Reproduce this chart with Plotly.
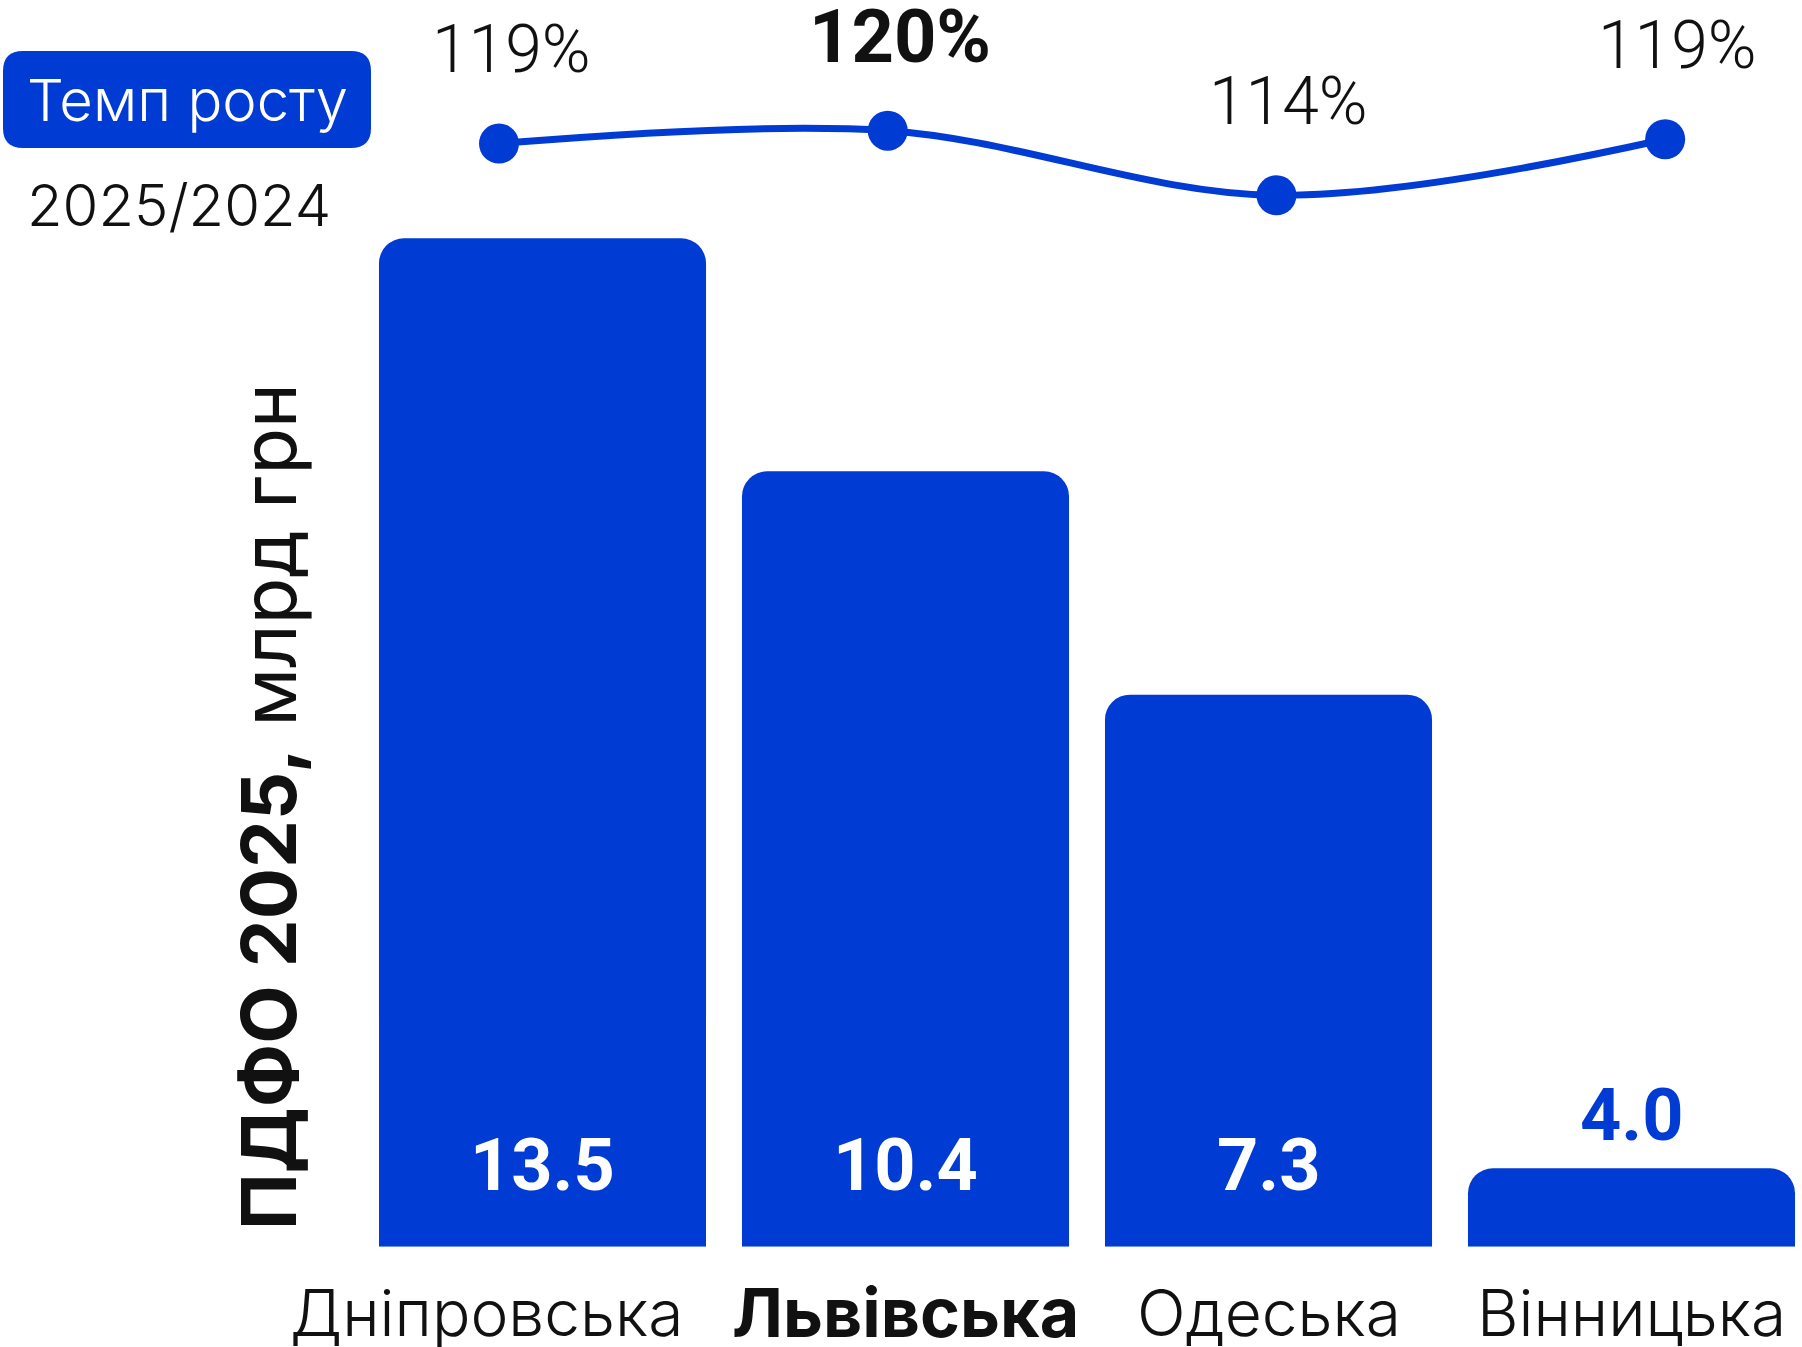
import plotly.graph_objects as go

# ---- data ----
regions = ["Дніпровська", "Львівська", "Одеська", "Вінницька"]
pdfo_2025 = [13.5, 10.4, 7.3, 4.0]          # value labels, млрд грн
bar_heights = [13.5, 10.38, 7.39, 1.05]     # bar heights as drawn in the picture
growth = [118.8, 120.0, 114.0, 119.2]       # темп росту 2025/2024, %
highlight = "Львівська"

W, H = 1802, 1347
BLUE = "#003BD3"
INK = "#111111"
TXT_FONT = "Inter, Lato, 'Noto Sans', sans-serif"
NUM_FONT = "Roboto, Inter, sans-serif"


def px(x):
    return x / W


def py(y):
    return 1 - y / H


fig = go.Figure()

fig.add_trace(go.Bar(
    x=regions, y=bar_heights,
    marker=dict(color=BLUE, cornerradius=25, line=dict(width=0)),
    hoverinfo="skip", showlegend=False,
))

fig.add_trace(go.Scatter(
    x=regions, y=growth, xaxis="x2", yaxis="y2",
    mode="lines+markers",
    line=dict(color=BLUE, width=7, shape="spline", smoothing=1.0),
    marker=dict(color=BLUE, size=40),
    hoverinfo="skip", showlegend=False,
))

annotations = []

# growth labels
for r, g in zip(regions, growth):
    bold = r == highlight
    annotations.append(dict(
        x=r, y=g, xref="x2", yref="y2",
        text=(f"<b>{round(g)}%</b>" if bold else f"{round(g)}%"),
        showarrow=False, xanchor="center", yanchor="middle",
        xshift=12, yshift=94,
        font=dict(family=NUM_FONT, size=74 if bold else 66, color=INK,
                  weight=700 if bold else 300),
    ))

# bar value labels
for r, v, h in zip(regions, pdfo_2025, bar_heights):
    inside = h > 3
    annotations.append(dict(
        x=r, y=0 if inside else h, xref="x", yref="y",
        text=f"<b>{v:.1f}</b>",
        showarrow=False, xanchor="center", yanchor="middle",
        yshift=81 if inside else 53,
        font=dict(family=NUM_FONT, size=72, color="white" if inside else BLUE),
    ))

# category labels
for i, r in enumerate(regions):
    bold = r == highlight
    annotations.append(dict(
        x=r, y=py(1312), xref="x", yref="paper",
        text=f"<b>{r}</b>" if bold else r,
        showarrow=False, xanchor="center", yanchor="middle",
        xshift=-56 if i == 0 else 0,
        font=dict(family=TXT_FONT, size=68 if bold else 64, color=INK,
                  weight=700 if bold else 300),
    ))

# y-axis title
annotations.append(dict(
    x=px(268), y=py(807), xref="paper", yref="paper",
    text="<b>ПДФО 2025,</b> млрд грн", textangle=-90,
    showarrow=False, xanchor="center", yanchor="middle",
    font=dict(family=TXT_FONT, size=76, color=INK),
))

# badge legend
annotations.append(dict(
    x=px(187), y=py(100), xref="paper", yref="paper",
    text="Темп росту", showarrow=False, xanchor="center", yanchor="middle",
    font=dict(family=TXT_FONT, size=58, color="white", weight=300),
))
annotations.append(dict(
    x=px(179), y=py(205), xref="paper", yref="paper",
    text="2025/2024", showarrow=False, xanchor="center", yanchor="middle",
    font=dict(family=TXT_FONT, size=58, color=INK, weight=300),
))

# rounded badge rectangle
x0, x1, y0, y1, rr = 3, 371, 51, 148, 20
path = (
    f"M {px(x0 + rr)} {py(y0)} L {px(x1 - rr)} {py(y0)} "
    f"Q {px(x1)} {py(y0)} {px(x1)} {py(y0 + rr)} "
    f"L {px(x1)} {py(y1 - rr)} Q {px(x1)} {py(y1)} {px(x1 - rr)} {py(y1)} "
    f"L {px(x0 + rr)} {py(y1)} Q {px(x0)} {py(y1)} {px(x0)} {py(y1 - rr)} "
    f"L {px(x0)} {py(y0 + rr)} Q {px(x0)} {py(y0)} {px(x0 + rr)} {py(y0)} Z"
)

fig.update_layout(
    width=W, height=H, autosize=False,
    margin=dict(l=0, r=0, t=0, b=0, pad=0),
    paper_bgcolor="white", plot_bgcolor="white",
    bargap=0.099,
    xaxis=dict(domain=[px(361), 1], type="category", range=[-0.5, 3.4697],
               visible=False, fixedrange=True),
    yaxis=dict(domain=[py(1246.7), 1], range=[0, 16.69], visible=False,
               fixedrange=True),
    xaxis2=dict(domain=[px(361), 1], type="category", overlaying="x",
                range=[-0.355, 3.352], visible=False, fixedrange=True),
    yaxis2=dict(domain=[py(1246.7), 1], overlaying="y", range=[16.38, 132.13],
                visible=False, fixedrange=True),
    annotations=annotations,
    shapes=[dict(type="path", path=path, xref="paper", yref="paper",
                 fillcolor=BLUE, line=dict(width=0), layer="below")],
)

fig.write_html(
    "out.html",
    config={"displayModeBar": False, "staticPlot": True},
    post_script="document.body.style.margin='0';document.body.style.overflow='hidden';",
)
